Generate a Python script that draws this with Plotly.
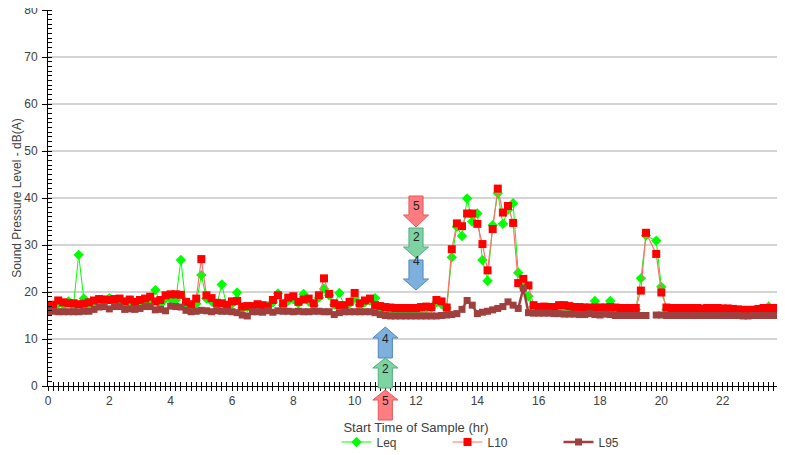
import plotly.graph_objects as go

# 10-minute samples over 24 hours (hour of day)
hours = [i / 6 for i in range(144)]

leq = [
    16.8, 17.0, 17.5, 17.3, 18.0, 17.2,
    27.9, 18.6, 17.6, 17.8, 18.0, 18.2,
    18.7, 18.0, 17.8, 17.3, 17.6, 17.5,
    17.6, 18.0, 17.9, 20.4, 17.4, 18.6,
    18.5, 18.3, 26.8, 17.1, 17.0, 17.5,
    23.6, 18.6, 18.0, 17.2, 21.6, 17.0,
    17.5, 19.9, 16.6, 16.8, 16.7, 16.9,
    16.8, 17.0, 17.8, 19.7, 17.2, 18.2,
    18.5, 17.6, 19.6, 18.0, 17.2, 18.8,
    20.7, 19.3, 17.3, 19.8, 16.9, 17.6,
    18.7, 17.3, 17.8, 18.2, 18.7, 16.8,
    16.4, 16.3, 16.2, 16.3, 16.2, 16.2,
    16.3, 16.4, 16.5, 16.6, 17.8, 17.4,
    16.6, 27.4, 33.9, 31.9, 39.9, 35.0,
    36.7, 26.8, 22.4, 34.2, 41.0, 34.5,
    37.5, 38.9, 24.1, 20.9, 19.1, 16.8,
    16.6, 16.6, 16.7, 16.6, 16.9, 16.9,
    16.8, 16.6, 16.5, 16.5, 16.4, 18.1,
    16.5, 16.5, 18.1, 16.4, 16.4, 16.4,
    16.3, 16.3, 22.9, 32.0, None, 30.9,
    21.1, 16.3, 16.2, 16.2, 16.2, 16.2,
    16.2, 16.2, 16.1, 16.2, 16.2, 16.2,
    16.1, 16.1, 16.0, 16.0, 16.0, 16.0,
    16.1, 16.2, 16.3, 16.9, 16.3, 16.3,
]

l10 = [
    17.1, 17.3, 18.2, 17.8, 17.6, 17.6,
    17.4, 17.5, 17.8, 18.2, 18.5, 18.4,
    18.3, 18.5, 18.6, 18.0, 18.4, 17.9,
    18.3, 18.6, 19.0, 18.0, 18.3, 19.3,
    19.5, 19.5, 19.4, 17.9, 17.4, 18.6,
    27.0, 19.3, 18.7, 17.7, 17.6, 17.3,
    18.0, 18.1, 16.9, 17.0, 17.0, 17.4,
    17.2, 16.9, 18.3, 19.3, 17.6, 18.8,
    19.1, 17.9, 18.4, 18.6, 17.6, 19.3,
    22.9, 19.6, 17.6, 17.2, 17.2, 17.9,
    19.8, 17.6, 18.2, 18.6, 17.2, 17.0,
    16.8, 16.7, 16.6, 16.6, 16.6, 16.6,
    16.6, 16.8, 16.9, 16.8, 18.3, 18.0,
    16.7, 29.1, 34.6, 34.0, 36.7, 36.7,
    34.5, 30.2, 24.6, 33.4, 42.0, 36.9,
    38.3, 34.7, 21.9, 22.8, 21.4, 17.2,
    16.8, 16.9, 16.8, 16.8, 17.2, 17.2,
    17.0, 16.8, 16.8, 16.7, 16.7, 16.7,
    16.7, 16.7, 16.8, 16.7, 16.6, 16.6,
    16.6, 16.6, 20.3, 32.6, None, 28.1,
    19.9, 16.7, 16.6, 16.6, 16.6, 16.6,
    16.6, 16.6, 16.5, 16.6, 16.6, 16.6,
    16.5, 16.5, 16.4, 16.3, 16.2, 16.2,
    16.2, 16.4, 16.6, 16.6, 16.6, 16.6,
]

l95 = [
    15.8, 15.9, 15.8, 15.8, 15.8, 15.8,
    15.8, 15.9, 15.9, 16.3, 16.8, 16.9,
    16.4, 16.9, 16.9, 16.3, 16.4, 16.3,
    16.5, 16.9, 16.9, 16.2, 16.3, 16.0,
    17.0, 16.9, 16.8, 16.1, 15.8, 15.9,
    16.1, 16.0, 15.8, 16.0, 15.9, 15.9,
    15.8, 15.6, 15.1, 14.9, 15.8, 15.8,
    15.7, 16.0, 15.7, 16.0, 15.9, 15.9,
    15.8, 15.9, 15.8, 15.8, 15.9, 15.9,
    15.8, 15.8, 15.2, 15.6, 15.8, 15.8,
    15.8, 15.8, 15.8, 15.8, 15.6, 15.2,
    15.0, 14.9, 14.9, 14.9, 14.9, 14.9,
    14.9, 14.9, 14.9, 14.9, 14.9, 15.0,
    15.1, 15.2, 15.4, 16.3, 18.2, 17.2,
    15.4, 15.7, 15.9, 16.2, 16.5, 16.9,
    17.9, 17.2, 16.5, 20.8, 15.6, 15.5,
    15.5, 15.5, 15.5, 15.4, 15.4, 15.3,
    15.3, 15.3, 15.2, 15.2, 15.4, 15.2,
    15.1, 15.3, 15.2, 15.0, 15.0, 15.0,
    15.0, 15.0, 15.0, 15.0, None, 15.1,
    15.1, 15.0, 15.0, 15.0, 15.0, 15.0,
    15.0, 15.0, 15.0, 15.0, 15.0, 15.0,
    15.0, 15.0, 15.0, 15.0, 14.9, 14.9,
    15.0, 15.0, 15.0, 15.0, 15.0, 15.0,
]

# arrow markers: (label, fill, border)
arrows_down = [('5', '#FF7C80', '#E05A5C'), ('2', '#7DD3A2', '#55AE7C'), ('4', '#7EB0DE', '#4F87C0')]
arrows_up = [('4', '#7EB0DE', '#4F87C0'), ('2', '#7DD3A2', '#55AE7C'), ('5', '#FF7C80', '#E05A5C')]

fig = go.Figure()

fig.add_trace(go.Scatter(
    x=hours, y=leq, name='Leq', mode='lines+markers', connectgaps=True,
    line=dict(color='#00FF00', width=1),
    marker=dict(symbol='diamond', size=8, color='#00FF00'),
))
fig.add_trace(go.Scatter(
    x=hours, y=l10, name='L10', mode='lines+markers', connectgaps=True,
    line=dict(color='#FF6F6F', width=1.2),
    marker=dict(symbol='square', size=8, color='#FF0000'),
))
fig.add_trace(go.Scatter(
    x=hours, y=l95, name='L95', mode='lines+markers',
    line=dict(color='#A0403E', width=2.5),
    marker=dict(symbol='square', size=7, color='#A0403E'),
))
# overlay axis only for the inside half of the crossing ticks
fig.add_trace(go.Scatter(x=[], y=[], xaxis='x2', showlegend=False, hoverinfo='skip'))


def py(px):
    # screen row -> paper y (plot area on screen rows 10..386)
    return 1 - (px - 10) / 376


def arrow_path(xc, top, bottom, head, down):
    bw, hw = 0.23, 0.41
    if down:
        yt, yb, yh = py(top), py(head), py(bottom)
        return (f'M {xc-bw},{yt} L {xc+bw},{yt} L {xc+bw},{yb} L {xc+hw},{yb} '
                f'L {xc},{yh} L {xc-hw},{yb} L {xc-bw},{yb} Z')
    yt, yh, yb = py(top), py(head), py(bottom)
    return (f'M {xc},{yt} L {xc+hw},{yh} L {xc+bw},{yh} L {xc+bw},{yb} '
            f'L {xc-bw},{yb} L {xc-bw},{yh} L {xc-hw},{yh} Z')


shapes = []
annotations = []
down_rows = [(196, 227, 215), (228, 258, 247), (260, 290, 279)]
for (lab, fill, border), (top, tip, base) in zip(arrows_down, down_rows):
    shapes.append(dict(type='path', xref='x', yref='paper',
                       path=arrow_path(12.0, top, tip, base, True),
                       fillcolor=fill, line=dict(color=border, width=1)))
    annotations.append(dict(x=12.0, y=py((top + base) / 2), xref='x', yref='paper',
                            text=lab, showarrow=False, font=dict(size=12, color='#222')))

up_rows = [(327, 358, 338), (358, 388, 368), (390, 420, 400)]
for (lab, fill, border), (tip, bottom, base) in zip(arrows_up, up_rows):
    shapes.append(dict(type='path', xref='x', yref='paper',
                       path=arrow_path(11.0, tip, bottom, base, False),
                       fillcolor=fill, line=dict(color=border, width=1)))
    annotations.append(dict(x=11.0, y=py((base + bottom) / 2), xref='x', yref='paper',
                            text=lab, showarrow=False, font=dict(size=12, color='#222')))

# title, mostly cut off above the image
annotations.append(dict(x=0.5, y=py(10), xref='paper', yref='paper', yanchor='bottom',
                        text='<b>Tuesday, January</b>', showarrow=False,
                        font=dict(size=14, color='#222')))

# page body adds 8px around the figure, so margins are shifted by that
fig.update_layout(
    width=785, height=455,
    margin=dict(l=40, r=9, t=2, b=77),
    plot_bgcolor='white', paper_bgcolor='white',
    font=dict(family='Liberation Sans, Arial, sans-serif', size=12, color='#404040'),
    shapes=shapes,
    annotations=annotations,
    showlegend=True,
    legend=dict(orientation='h', x=0.392, xanchor='left', y=py(442), yanchor='middle',
                entrywidth=66, entrywidthmode='pixels', itemwidth=30,
                font=dict(size=12, color='#404040'), bgcolor='rgba(0,0,0,0)'),
    xaxis=dict(
        range=[0, 24], dtick=2, tick0=0, automargin=False, ticklabeloverflow='allow',
        showline=True, linecolor='black', linewidth=1,
        showgrid=False, zeroline=False,
        ticks='outside', ticklen=4, tickcolor='black',
        minor=dict(dtick=1 / 6, ticks='outside', ticklen=4, tickcolor='black'),
        tickfont=dict(size=12, color='#404040'),
        title=dict(text='Start Time of Sample (hr)', font=dict(size=13, color='#404040'), standoff=15),
    ),
    xaxis2=dict(
        range=[0, 24], overlaying='x', anchor='y', side='bottom', automargin=False,
        showticklabels=False, showgrid=False, zeroline=False, showline=False,
        dtick=2, tick0=0, ticks='inside', ticklen=4, tickcolor='black',
        minor=dict(dtick=1 / 6, ticks='inside', ticklen=4, tickcolor='black'),
    ),
    yaxis=dict(
        range=[0, 80], dtick=10, automargin=False, ticklabeloverflow='allow',
        showline=True, linecolor='black', linewidth=1,
        showgrid=True, gridcolor='#D4D4D4', gridwidth=2, zeroline=False,
        ticks='outside', ticklen=5, tickcolor='black', ticklabelstandoff=2,
        minor=dict(dtick=1, ticks='inside', ticklen=4, tickcolor='black', showgrid=False),
        tickfont=dict(size=12, color='#404040'),
        title=dict(text='Sound Pressure Level - dB(A)', font=dict(size=12, color='#404040'), standoff=0),
    ),
)

fig.write_html("out.html")
